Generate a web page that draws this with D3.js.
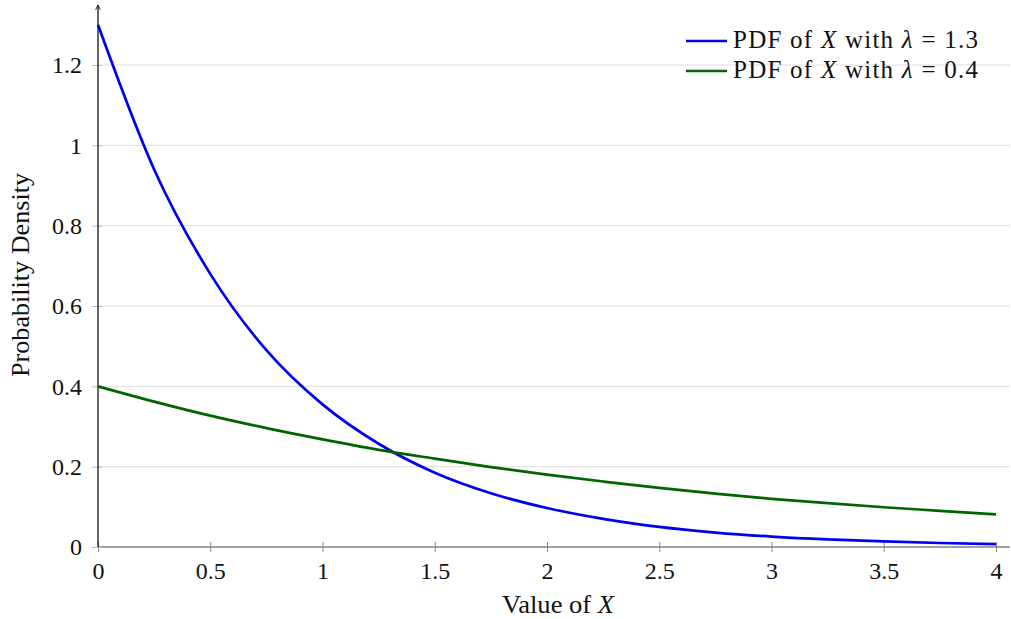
<!DOCTYPE html>
<html>
<head>
<meta charset="utf-8">
<script src="https://cdn.jsdelivr.net/npm/d3@7"></script>
<style>
  body { margin: 0; background: #fff; }
  text { font-family: "Liberation Serif", "DejaVu Serif", serif; fill: #111; }
</style>
</head>
<body>
<div class="svg-container"></div>
<script>
var width = 1011;
var height = 619;

// values
var xValues = [0, 0.25, 0.5, 0.75, 1, 1.25, 1.5, 1.75, 2, 2.25, 2.5, 2.75, 3, 3.25, 3.5, 3.75, 4];
var pdfFast = [1.3, 0.94, 0.68, 0.49, 0.355, 0.257, 0.185, 0.134, 0.097, 0.07, 0.05, 0.036, 0.026, 0.019, 0.014, 0.01, 0.007];
var pdfSlow = [0.4, 0.362, 0.327, 0.296, 0.268, 0.242, 0.22, 0.199, 0.18, 0.163, 0.147, 0.133, 0.12, 0.109, 0.099, 0.09, 0.081];

var xTicks = [0, 0.5, 1, 1.5, 2, 2.5, 3, 3.5, 4];
var yTicks = [0, 0.2, 0.4, 0.6, 0.8, 1, 1.2];

var series = [
  { label: "1.3", color: "#0000f0", values: pdfFast },
  { label: "0.4", color: "#006400", values: pdfSlow }
];

var x = d3.scaleLinear().domain([0, 4]).range([98, 996]);
var y = d3.scaleLinear().domain([0, 1.2]).range([547, 65]);

var svg = d3.select(".svg-container").append("svg")
  .attr("width", width).attr("height", height);

svg.append("defs").append("marker")
  .attr("id", "arrow")
  .attr("viewBox", "0 0 10 10")
  .attr("refX", 9).attr("refY", 5)
  .attr("markerWidth", 5).attr("markerHeight", 5)
  .attr("orient", "auto")
  .append("path")
  .attr("d", "M1,1 L9,5 L1,9")
  .attr("fill", "none").attr("stroke", "#000").attr("stroke-width", 1.4);

// grid
svg.append("g").selectAll("line").data(yTicks.slice(1)).enter().append("line")
  .attr("x1", x(0)).attr("x2", 1010)
  .attr("y1", d => y(d)).attr("y2", d => y(d))
  .attr("stroke", "#dedede").attr("stroke-width", 1);

// x axis
var xAxis = svg.append("g").attr("transform", "translate(0," + y(0) + ")")
  .call(d3.axisBottom(x).tickValues(xTicks).tickSize(5).tickFormat(d3.format("")));
xAxis.select(".domain").remove();
xAxis.selectAll(".tick line").attr("y1", -5).attr("y2", 5).attr("stroke", "#888");
xAxis.selectAll(".tick text").attr("y", 32).attr("dy", null)
  .style("font-size", "24px").style("font-family", "Liberation Serif").style("fill", "#111");
svg.append("line")
  .attr("x1", x(0)).attr("x2", 1010)
  .attr("y1", y(0)).attr("y2", y(0))
  .attr("stroke", "#808080").attr("stroke-width", 1.3);

// y axis
var yAxis = svg.append("g").attr("transform", "translate(" + x(0) + ",0)")
  .call(d3.axisLeft(y).tickValues(yTicks).tickSize(6).tickFormat(d3.format("")));
yAxis.select(".domain").remove();
yAxis.selectAll(".tick line").attr("x1", -6).attr("x2", 4).attr("stroke", "#bbb");
yAxis.selectAll(".tick text").attr("x", -16).attr("dy", "0.33em")
  .style("font-size", "24px").style("font-family", "Liberation Serif").style("fill", "#111");
svg.append("line")
  .attr("x1", x(0)).attr("x2", x(0))
  .attr("y1", y(0)).attr("y2", 5)
  .attr("stroke", "#000").attr("stroke-width", 1.2)
  .attr("marker-end", "url(#arrow)");

// curves
var line = d3.line()
  .x((d, i) => x(xValues[i]))
  .y(d => y(d))
  .curve(d3.curveMonotoneX);

svg.append("g").selectAll("path").data(series).enter().append("path")
  .attr("d", d => line(d.values))
  .attr("fill", "none")
  .attr("stroke", d => d.color)
  .attr("stroke-width", 2.7);

// axis titles
var xTitle = svg.append("text").attr("x", 558).attr("y", 613)
  .attr("text-anchor", "middle").style("font-size", "25px")
  .attr("textLength", 112).attr("lengthAdjust", "spacingAndGlyphs");
xTitle.append("tspan").text("Value of ");
xTitle.append("tspan").attr("font-style", "italic").text("X");

svg.append("text")
  .attr("transform", "translate(29,275) rotate(-90)")
  .attr("text-anchor", "middle").style("font-size", "25px")
  .attr("textLength", 204).attr("lengthAdjust", "spacingAndGlyphs")
  .text("Probability Density");

// legend
var legend = svg.append("g").selectAll("g").data(series).enter().append("g")
  .attr("transform", (d, i) => "translate(686," + (41 + i * 30) + ")");
legend.append("line")
  .attr("x1", 0).attr("x2", 41)
  .attr("stroke", d => d.color).attr("stroke-width", 2.7);
var legendText = legend.append("text").attr("x", 47).attr("y", 7)
  .style("font-size", "25px")
  .attr("textLength", 245).attr("lengthAdjust", "spacing");
legendText.append("tspan").text("PDF of ");
legendText.append("tspan").attr("font-style", "italic").text("X");
legendText.append("tspan").text(" with ");
legendText.append("tspan").attr("font-style", "italic").text("λ");
legendText.append("tspan").text(d => " = " + d.label);
</script>
</body>
</html>
